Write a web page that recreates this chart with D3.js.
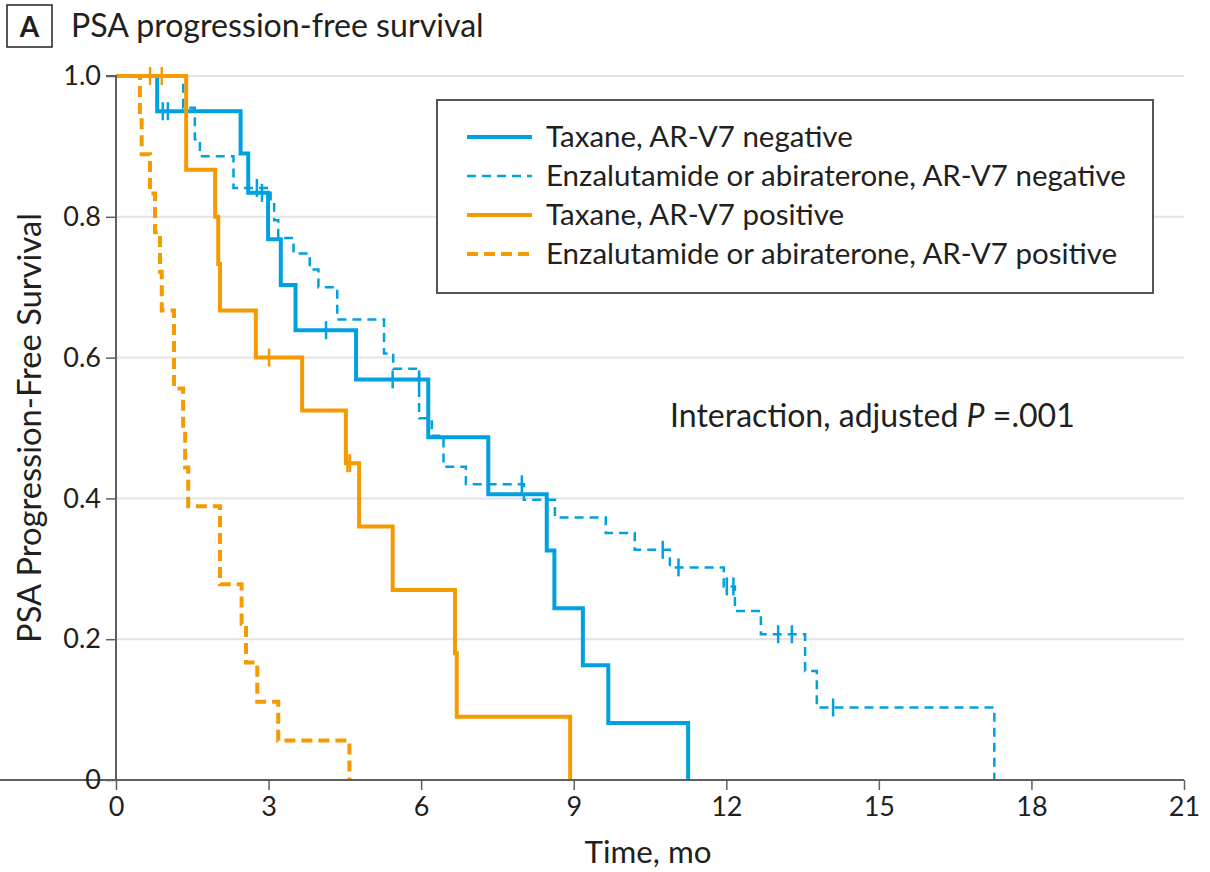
<!DOCTYPE html>
<html>
<head>
<meta charset="utf-8">
<script src="https://cdn.jsdelivr.net/npm/d3@7"></script>
<style>
  body { margin: 0; background: #fff; }
  text { font-family: Lato, "Noto Sans", sans-serif; fill: #231f20; }
</style>
</head>
<body>
<svg id="chart" width="1210" height="872"></svg>
<script>
// Kaplan-Meier steps: event times (mo) and survival right after each event
const taxNegTimes = [0.81, 2.45, 2.6, 2.99, 3.24, 3.53, 4.72, 6.14, 7.32, 8.47, 8.62, 9.18, 9.68, 11.25];
const taxNegSurv = [0.95, 0.89, 0.834, 0.768, 0.703, 0.639, 0.569, 0.487, 0.406, 0.326, 0.244, 0.163, 0.081, 0];
const taxNegCensor = [0.92, 1.02, 2.87, 4.13, 5.44, 5.96];

const enzNegTimes = [1.32, 1.55, 1.65, 2.31, 3.04, 3.11, 3.19, 3.49, 3.81, 3.98, 4.35, 5.27, 5.45, 5.96, 6.21, 6.44, 6.88, 8.02, 8.63, 9.63, 10.2, 10.89, 11.95, 12.17, 12.68, 13.55, 13.78, 17.27];
const enzNegSurv = [0.955, 0.91, 0.886, 0.841, 0.818, 0.795, 0.77, 0.748, 0.725, 0.70, 0.654, 0.606, 0.584, 0.514, 0.489, 0.445, 0.42, 0.398, 0.373, 0.351, 0.327, 0.302, 0.275, 0.24, 0.207, 0.155, 0.103, 0];
const enzNegCensor = [2.77, 7.98, 10.75, 11.06, 12.01, 12.14, 13.02, 13.29, 14.1];

const taxPosTimes = [1.38, 1.95, 2.01, 2.045, 2.75, 3.66, 4.52, 4.78, 5.44, 6.665, 6.7, 8.93];
const taxPosSurv = [0.867, 0.80, 0.733, 0.667, 0.60, 0.525, 0.45, 0.36, 0.27, 0.18, 0.09, 0];
const taxPosCensor = [0.67, 0.9, 3.01, 4.55, 4.6];

const enzPosTimes = [0.47, 0.505, 0.668, 0.767, 0.865, 0.9, 1.14, 1.32, 1.36, 1.42, 2.045, 2.47, 2.556, 2.778, 3.19, 4.59];
const enzPosSurv = [0.944, 0.889, 0.833, 0.778, 0.722, 0.667, 0.556, 0.5, 0.444, 0.389, 0.278, 0.222, 0.167, 0.111, 0.056, 0];
const enzPosCensor = [];

const xTicks = [0, 3, 6, 9, 12, 15, 18, 21];
const yTicks = [0, 0.2, 0.4, 0.6, 0.8, 1.0];
const yTickLabels = ["0", "0.2", "0.4", "0.6", "0.8", "1.0"];
const legendLabels = [
    "Taxane, AR-V7 negative",
    "Enzalutamide or abiraterone, AR-V7 negative",
    "Taxane, AR-V7 positive",
    "Enzalutamide or abiraterone, AR-V7 positive"
];

const BLUE = "#00a1e0";
const ORANGE = "#f59a00";

const series = [
    { times: enzNegTimes, surv: enzNegSurv, censor: enzNegCensor, color: BLUE, width: 2.5, dash: "9,6" },
    { times: taxNegTimes, surv: taxNegSurv, censor: taxNegCensor, color: BLUE, width: 4, dash: null },
    { times: enzPosTimes, surv: enzPosSurv, censor: enzPosCensor, color: ORANGE, width: 4, dash: "11,6" },
    { times: taxPosTimes, surv: taxPosSurv, censor: taxPosCensor, color: ORANGE, width: 4, dash: null }
];
// legend order differs from draw order
const legendSeries = [series[1], series[0], series[3], series[2]];

const svg = d3.select("#chart");

const x = d3.scaleLinear().domain([0, 21]).range([116, 1184]);
const y = d3.scaleLinear().domain([0, 1]).range([780, 76]);

// shrink/grow a text element so it spans the given width
function fit(sel, w) {
    const len = sel.node().getComputedTextLength();
    const fs = parseFloat(sel.attr("font-size"));
    sel.attr("font-size", fs * w / len);
    return fs * w / len;
}

// gridlines
svg.append("g").selectAll("line")
    .data(yTicks.filter(d => d > 0))
    .join("line")
    .attr("x1", x(0)).attr("x2", x(21))
    .attr("y1", d => y(d)).attr("y2", d => y(d))
    .attr("stroke", "#e3e3e3").attr("stroke-width", 2);

// curves
const line = d3.line()
    .x(d => x(d[0]))
    .y(d => y(d[1]))
    .curve(d3.curveStepAfter);

function survAt(s, t) {
    const i = d3.bisectRight(s.times, t);
    return i === 0 ? 1 : s.surv[i - 1];
}

series.forEach(s => {
    const pts = [[0, 1]].concat(s.times.map((t, i) => [t, s.surv[i]]));
    svg.append("path")
        .attr("d", line(pts))
        .attr("fill", "none")
        .attr("stroke", s.color)
        .attr("stroke-width", s.width)
        .attr("stroke-dasharray", s.dash);

    svg.append("g").selectAll("line")
        .data(s.censor)
        .join("line")
        .attr("x1", d => x(d)).attr("x2", d => x(d))
        .attr("y1", d => y(survAt(s, d)) - 9)
        .attr("y2", d => y(survAt(s, d)) + 9)
        .attr("stroke", s.color)
        .attr("stroke-width", 2.5);
});

// axes
const xAxis = svg.append("g")
    .attr("transform", `translate(0,${y(0)})`)
    .call(d3.axisBottom(x).tickValues(xTicks).tickSize(10).tickPadding(7));
const yAxis = svg.append("g")
    .attr("transform", `translate(${x(0)},0)`)
    .call(d3.axisLeft(y).tickValues(yTicks).tickFormat((d, i) => yTickLabels[i]).tickSize(10).tickPadding(5));

[xAxis, yAxis].forEach(a => {
    a.select(".domain").attr("stroke", "#5f5f5f").attr("stroke-width", 2);
    a.selectAll(".tick line").attr("stroke", "#5f5f5f").attr("stroke-width", 1.5);
    a.selectAll(".tick text")
        .attr("font-family", "Lato, sans-serif")
        .attr("font-size", 27)
        .attr("fill", "#231f20");
});
yAxis.select(".domain").attr("d", `M-10,${y(1)}H0V${y(0)}`);
xAxis.select(".domain").attr("d", `M0,0H${x(21)}`);

// axis titles
const xt = svg.append("text")
    .attr("x", 648).attr("y", 863)
    .attr("text-anchor", "middle")
    .attr("font-size", 28)
    .text("Time, mo");
fit(xt, 127);

const yt = svg.append("text")
    .attr("transform", "translate(41,428) rotate(-90)")
    .attr("text-anchor", "middle")
    .attr("font-size", 28)
    .text("PSA Progression-Free Survival");
fit(yt, 430);

// panel letter + title
svg.append("rect")
    .attr("x", 7).attr("y", 5).attr("width", 45).attr("height", 42)
    .attr("fill", "none").attr("stroke", "#231f20").attr("stroke-width", 1.5);
svg.append("text")
    .attr("x", 29.5).attr("y", 37)
    .attr("text-anchor", "middle")
    .attr("font-size", 28).attr("font-weight", "bold")
    .text("A");
const title = svg.append("text")
    .attr("x", 71).attr("y", 37)
    .attr("font-size", 30)
    .text("PSA progression-free survival");
fit(title, 413);

// legend
svg.append("rect")
    .attr("x", 437).attr("y", 100).attr("width", 716).attr("height", 193)
    .attr("fill", "#fff").attr("stroke", "#555").attr("stroke-width", 2);

const rowY = d3.scalePoint().domain(d3.range(4)).range([137, 254]);
const leg = svg.append("g").selectAll("g")
    .data(legendSeries)
    .join("g")
    .attr("transform", (d, i) => `translate(0,${rowY(i)})`);
leg.append("line")
    .attr("x1", 467).attr("x2", 532)
    .attr("stroke", d => d.color)
    .attr("stroke-width", d => d.width)
    .attr("stroke-dasharray", d => d.dash);
const legText = leg.append("text")
    .attr("x", 546).attr("y", 10)
    .attr("font-size", 28)
    .text((d, i) => legendLabels[i]);
const legSize = fit(legText.filter((d, i) => i === 1), 580);
legText.attr("font-size", legSize);

// annotation
const note = svg.append("text")
    .attr("x", 670).attr("y", 427)
    .attr("font-size", 28);
note.append("tspan").text("Interaction, adjusted ");
note.append("tspan").attr("font-style", "italic").text("P");
note.append("tspan").text(" =.001");
fit(note, 405);
</script>
</body>
</html>
